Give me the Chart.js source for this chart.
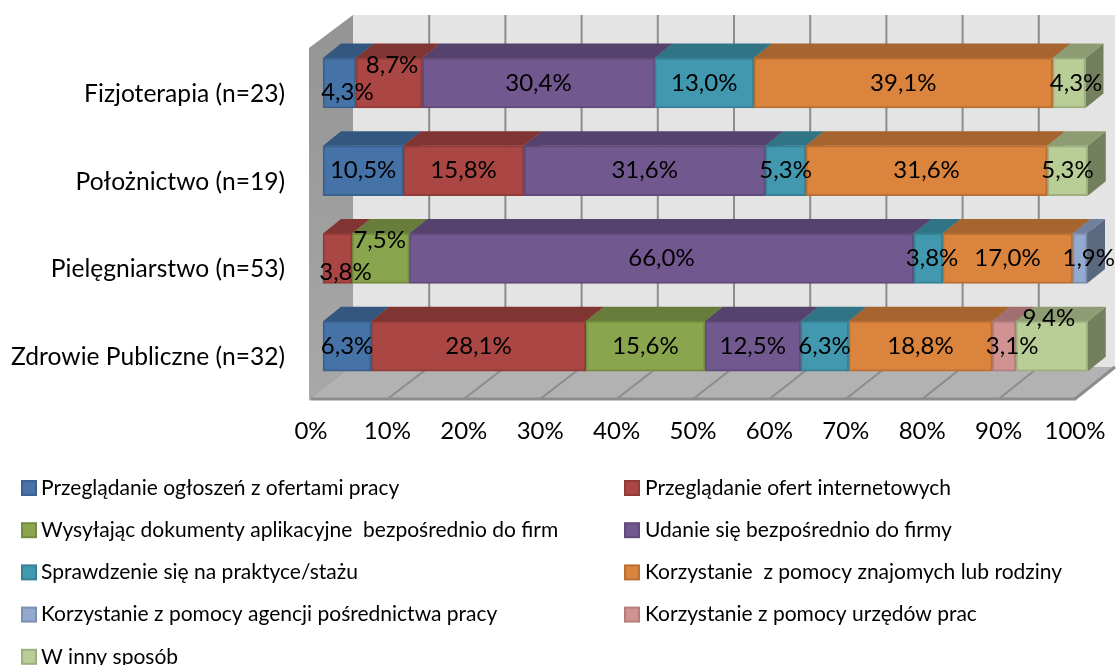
<!DOCTYPE html>
<html lang="pl">
<head>
<meta charset="utf-8">
<title>Wykres</title>
<script src="https://cdn.jsdelivr.net/npm/chart.js@4"></script>
<style>
  html, body { margin: 0; padding: 0; background: #fff; }
  #wrap { width: 1116px; height: 665px; }
</style>
</head>
<body>
<div id="wrap"><canvas id="barChart" width="1116" height="665"></canvas></div>
<script>
const categories = ["Fizjoterapia (n=23)", "Położnictwo (n=19)", "Pielęgniarstwo (n=53)", "Zdrowie Publiczne (n=32)"];
const xTicks = [0, 10, 20, 30, 40, 50, 60, 70, 80, 90, 100];

const seriesNames = [
  "Przeglądanie ogłoszeń z ofertami pracy",
  "Przeglądanie ofert internetowych",
  "Wysyłając dokumenty aplikacyjne  bezpośrednio do firm",
  "Udanie się bezpośrednio do firmy",
  "Sprawdzenie się na praktyce/stażu",
  "Korzystanie  z pomocy znajomych lub rodziny",
  "Korzystanie z pomocy agencji pośrednictwa pracy",
  "Korzystanie z pomocy urzędów prac",
  "W inny sposób"
];

const ogloszenia = [4.3, 10.5, null, 6.3];
const internet = [8.7, 15.8, 3.8, 28.1];
const dokumenty = [null, null, 7.5, 15.6];
const doFirmy = [30.4, 31.6, 66.0, 12.5];
const praktyka = [13.0, 5.3, 3.8, 6.3];
const znajomi = [39.1, 31.6, 17.0, 18.8];
const agencja = [null, null, 1.9, null];
const urzedy = [null, null, null, 3.1];
const innySposob = [4.3, 5.3, null, 9.4];

const seriesValues = [ogloszenia, internet, dokumenty, doFirmy, praktyka, znajomi, agencja, urzedy, innySposob];
const seriesColors = ["#4573A7", "#AA4643", "#89A54E", "#71588F", "#4198AF", "#DB843D", "#93A9CF", "#D19392", "#B9CD96"];

// labels that were moved by hand in the original, "series:row" -> [dx, dy]
const labelNudge = {
  "0:0": [8, 9], "1:0": [3, -18], "8:0": [7, 0],
  "1:2": [8, 14], "2:2": [-1, -18], "4:2": [4, 0], "6:2": [9, 0],
  "7:3": [8, 0], "8:3": [-3, -28]
};

const AXIS_FONT = "24px Lato";
const LEGEND_FONT = "21px Lato";
const DEPTH_X = 18, DEPTH_Y = 14.5;

function shade(hex, k) {
  const n = parseInt(hex.slice(1), 16);
  const c = [n >> 16, (n >> 8) & 255, n & 255].map(v => Math.round(v * k));
  return "rgb(" + c.join(",") + ")";
}

// walls and floor of the 3D box, ticks come from the x scale
const box3d = {
  id: "box3d",
  beforeDatasetsDraw(chart) {
    const ctx = chart.ctx, x = chart.scales.x;
    const backTop = 15, backBottom = 367, frontBottom = 399;
    const backX = v => 353 + (x.getPixelForValue(v) - x.left) * 762 / x.width;
    const frontX = v => x.getPixelForValue(v) - 12;
    ctx.save();

    ctx.fillStyle = "#E4E4E4";
    ctx.fillRect(backX(0), backTop, backX(100) - backX(0), backBottom - backTop);

    const wall = ctx.createLinearGradient(0, backTop, 0, frontBottom);
    wall.addColorStop(0, "#949494");
    wall.addColorStop(1, "#A8A8A8");
    ctx.fillStyle = wall;
    ctx.beginPath();
    ctx.moveTo(309, 48);
    ctx.lineTo(backX(0), backTop);
    ctx.lineTo(backX(0), backBottom);
    ctx.lineTo(309, 401);
    ctx.closePath();
    ctx.fill();

    ctx.fillStyle = "#B2B2B2";
    ctx.beginPath();
    ctx.moveTo(backX(0), backBottom);
    ctx.lineTo(backX(100), backBottom);
    ctx.lineTo(frontX(100), frontBottom);
    ctx.lineTo(frontX(0), frontBottom);
    ctx.closePath();
    ctx.fill();

    ctx.strokeStyle = "#8C8C8C";
    ctx.lineWidth = 2;
    xTicks.forEach(v => {
      if (v > 0 && v < 100) {
        ctx.beginPath();
        ctx.moveTo(backX(v), backTop);
        ctx.lineTo(backX(v), backBottom);
        ctx.lineTo(frontX(v), frontBottom);
        ctx.stroke();
      }
    });
    ctx.lineWidth = 3;
    ctx.beginPath();
    ctx.moveTo(frontX(0), frontBottom);
    ctx.lineTo(frontX(100), frontBottom);
    ctx.lineTo(backX(100), backBottom);
    ctx.stroke();

    // side and top of every bar segment, the front face is the real bar
    chart.data.datasets.forEach((ds, i) => {
      chart.getDatasetMeta(i).data.forEach((bar, r) => {
        if (ds.data[r] == null) return;
        const left = bar.base, right = bar.x, top = bar.y - bar.height / 2, bottom = bar.y + bar.height / 2;
        ctx.fillStyle = shade(ds.backgroundColor, 0.62);
        ctx.beginPath();
        ctx.moveTo(right, top);
        ctx.lineTo(right + DEPTH_X, top - DEPTH_Y);
        ctx.lineTo(right + DEPTH_X, bottom - DEPTH_Y);
        ctx.lineTo(right, bottom);
        ctx.closePath();
        ctx.fill();
        ctx.fillStyle = shade(ds.backgroundColor, 0.76);
        ctx.beginPath();
        ctx.moveTo(left, top);
        ctx.lineTo(left + DEPTH_X, top - DEPTH_Y);
        ctx.lineTo(right + DEPTH_X, top - DEPTH_Y);
        ctx.lineTo(right, top);
        ctx.closePath();
        ctx.fill();
      });
    });
    ctx.restore();
  }
};

const valueLabels = {
  id: "valueLabels",
  afterDatasetsDraw(chart) {
    const ctx = chart.ctx;
    ctx.save();
    ctx.font = AXIS_FONT;
    ctx.fillStyle = "#000";
    ctx.textAlign = "center";
    ctx.textBaseline = "middle";
    chart.data.datasets.forEach((ds, i) => {
      chart.getDatasetMeta(i).data.forEach((bar, r) => {
        if (ds.data[r] == null) return;
        const nudge = labelNudge[i + ":" + r] || [0, 0];
        const text = ds.data[r].toFixed(1).replace(".", ",") + "%";
        ctx.fillText(text, (bar.base + bar.x) / 2 + nudge[0], bar.y + nudge[1]);
      });
    });
    ctx.restore();
  }
};

// two column legend, the built-in one can't keep these columns
const columnLegend = {
  id: "columnLegend",
  afterDraw(chart) {
    const ctx = chart.ctx;
    ctx.save();
    ctx.font = LEGEND_FONT;
    ctx.textBaseline = "middle";
    ctx.textAlign = "left";
    chart.data.datasets.forEach((ds, i) => {
      const col = i % 2, row = Math.floor(i / 2);
      const boxX = col ? 625 : 22;
      const textX = col ? 645 : 41;
      const midY = 488 + row * 42.2;
      ctx.fillStyle = ds.backgroundColor;
      ctx.fillRect(boxX, midY - 7, 14, 14);
      ctx.strokeStyle = ds.borderColor;
      ctx.lineWidth = 2;
      ctx.strokeRect(boxX, midY - 7, 14, 14);
      ctx.fillStyle = "#000";
      ctx.fillText(ds.label, textX, midY);
    });
    ctx.restore();
  }
};

new Chart(document.getElementById("barChart"), {
  type: "bar",
  data: {
    labels: categories,
    datasets: seriesNames.map((name, i) => ({
      label: name,
      data: seriesValues[i],
      backgroundColor: seriesColors[i],
      borderColor: shade(seriesColors[i], 0.85),
      borderWidth: 2,
      borderSkipped: false,
      barThickness: 50,
      clip: false
    }))
  },
  options: {
    indexAxis: "y",
    responsive: false,
    animation: false,
    layout: { padding: { top: 39, right: 29, left: 0, bottom: 0 } },
    plugins: { legend: { display: false }, tooltip: { enabled: false } },
    scales: {
      x: {
        stacked: true,
        min: 0,
        max: 100,
        afterFit(scale) {
          scale.height = 275;
          scale.paddingLeft = 0;
          scale.paddingRight = 0;
        },
        afterBuildTicks(scale) { scale.ticks = xTicks.map(v => ({ value: v })); },
        grid: { display: false },
        border: { display: false },
        ticks: {
          color: "#000",
          font: { family: "Lato", size: 24 },
          padding: 19,
          labelOffset: -12,
          maxRotation: 0,
          autoSkip: false,
          callback: v => v + "%"
        }
      },
      y: {
        stacked: true,
        afterFit(scale) {
          scale.width = 323;
          scale.paddingTop = 0;
          scale.paddingBottom = 0;
        },
        grid: { display: false },
        border: { display: false },
        ticks: {
          color: "#000",
          font: { family: "Lato", size: 24.6 },
          padding: 30,
          labelOffset: 11
        }
      }
    }
  },
  plugins: [box3d, valueLabels, columnLegend]
});
</script>
</body>
</html>
